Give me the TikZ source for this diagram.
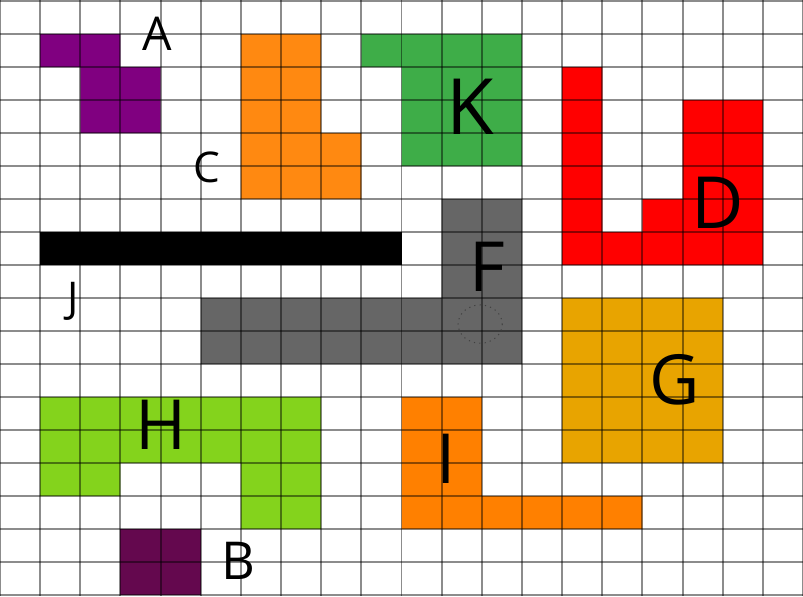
\documentclass[tikz,border=0pt]{standalone}
\usepackage{fontspec}
\setmainfont{Open Sans}
\definecolor{purpleA}{RGB}{128,0,128}
\definecolor{orangeC}{RGB}{255,137,17}
\definecolor{greenK}{RGB}{62,173,72}
\definecolor{redD}{RGB}{255,0,0}
\definecolor{grayF}{RGB}{102,102,102}
\definecolor{goldG}{RGB}{232,164,0}
\definecolor{limeH}{RGB}{132,211,28}
\definecolor{orangeI}{RGB}{255,128,0}
\definecolor{plumB}{RGB}{100,8,78}
\tikzset{
  gridline/.style={black, opacity=0.45, line width=1.4pt},
  hand/.style={inner sep=0pt, font=\fontsize{#1}{#1}\selectfont}
}
\begin{document}
\begin{tikzpicture}[x=1cm, y=-0.822cm]
  \useasboundingbox (0,-0.03) rectangle (20,18.03);
  \fill[white] (0,-0.03) rectangle (20,18.03);
  % Pieces
  \fill[purpleA] (1,1) -- (3,1) -- (3,2) -- (4,2) -- (4,4) -- (2,4) -- (2,2) -- (1,2) -- cycle;
  \fill[orangeC] (6,1) -- (8,1) -- (8,4) -- (9,4) -- (9,6) -- (6,6) -- cycle;
  \fill[greenK]  (9,1) -- (13,1) -- (13,5) -- (10,5) -- (10,2) -- (9,2) -- cycle;
  \fill[redD]    (14,2) -- (15,2) -- (15,7) -- (16,7) -- (16,6) -- (17,6) -- (17,3)
                 -- (19,3) -- (19,8) -- (14,8) -- cycle;
  \fill[black]   (1,7) rectangle (10,8);
  \fill[grayF]   (11,6) -- (13,6) -- (13,11) -- (5,11) -- (5,9) -- (11,9) -- cycle;
  \fill[goldG]   (14,9) rectangle (18,14);
  \fill[limeH]   (1,12) -- (8,12) -- (8,16) -- (6,16) -- (6,14) -- (3,14) -- (3,15)
                 -- (1,15) -- cycle;
  \fill[orangeI] (10,12) -- (12,12) -- (12,15) -- (16,15) -- (16,16) -- (10,16) -- cycle;
  \fill[plumB]   (3,16) rectangle (5,18);
  % Grid
  \foreach \c in {0,...,20}
    \draw[gridline] (\c,-0.03) -- (\c,18.03);
  \foreach \r in {0,...,18}
    \draw[gridline] (0,\r) -- (20,\r);
  % Faint mark on the grey piece
  \draw[black!75, line width=0.7pt, dash pattern=on 0.8pt off 3pt]
        (11.96,9.79) ellipse [x radius=0.55, y radius=0.58];
  % Letters
  \node[hand=33] (labA) at (3.91,1.00)  {A};
  \node[hand=30] (labC) at (5.16,5.03)  {C};
  \node[hand=55] (labK) at (11.71,3.21) {K};
  \node[hand=51] (labD) at (17.88,6.12) {D};
  \node[hand=49] (labF) at (12.15,8.06) {F};
  \node[hand=30] (labJ) at (1.82,9.09)  {J};
  \node[hand=49] (labG) at (16.81,11.48) {G};
  \node[hand=49] (labH) at (4.01,12.85) {H};
  \node[hand=49] (labI) at (11.11,13.88) {I};
  \node[hand=37] (labB) at (5.93,16.97) {B};
\end{tikzpicture}
\end{document}
